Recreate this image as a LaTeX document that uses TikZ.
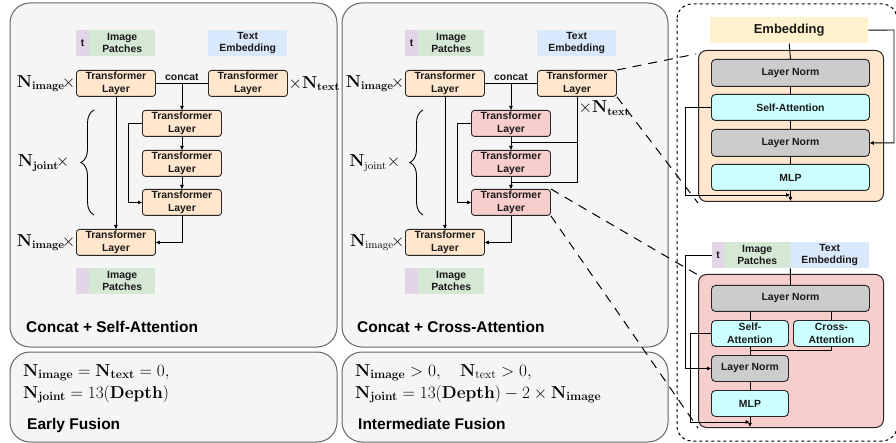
\documentclass[tikz,border=0pt]{standalone}
\usepackage[no-math]{fontspec}
\setmainfont{Liberation Sans}
\usetikzlibrary{arrows.meta,decorations.pathreplacing}
\definecolor{panelfill}{HTML}{F5F5F5}
\definecolor{paneldraw}{HTML}{666666}
\definecolor{tlc}{HTML}{FFE6CC}
\definecolor{pinkc}{HTML}{F8CECC}
\definecolor{purplec}{HTML}{E1D5E7}
\definecolor{greenc}{HTML}{D5E8D4}
\definecolor{bluec}{HTML}{DAE8FC}
\definecolor{embc}{HTML}{FFF2CC}
\definecolor{grayc}{HTML}{CCCCCC}
\definecolor{cyanc}{HTML}{CCFFFF}
\begin{document}
\begin{tikzpicture}[x=1pt,y=-1pt,
  panel/.style={draw=paneldraw,fill=panelfill,line width=1pt,rounded corners=20pt},
  tx/.style={font=\bfseries\fontsize{10.4}{12.5}\selectfont,align=center,inner sep=0pt,text=black!90},
  bx/.style={tx,anchor=north west,minimum height=26pt},
  tl/.style={bx,draw=black!85,fill=tlc,rounded corners=3pt,line width=0.9pt,minimum width=79pt},
  tlp/.style={tl,fill=pinkc},
  tag/.style={bx,minimum width=79pt},
  inner/.style={bx,draw=black!85,rounded corners=4pt,line width=0.9pt},
  ttl/.style={font=\bfseries\fontsize{15.5}{18}\selectfont,inner sep=0pt,anchor=base west},
  mlbl/.style={font=\fontsize{16}{18}\selectfont,inner sep=0.5pt},
  mtxt/.style={font=\fontsize{16.5}{18}\selectfont,inner sep=0pt,anchor=base west},
  ln/.style={line width=0.9pt,black},
  arr/.style={ln,-{Triangle[length=4pt,width=3.5pt]}},
  dsh/.style={line width=1pt,black,dash pattern=on 9pt off 7pt},
  brc/.style={decorate,decoration={brace,amplitude=13pt,aspect=0.5},line width=0.9pt}
]
\useasboundingbox (0,0) rectangle (896,443);

% ---------------- panels ----------------
\draw[panel] (10,3) rectangle (337,347);
\draw[panel] (342,3) rectangle (668,347);
\draw[panel] (10,352) rectangle (337,442);
\draw[panel] (342,352) rectangle (668,442);
\draw[line width=1pt,dashed,rounded corners=15pt] (677,4) rectangle (897,441);

% ---------------- panel 1: early fusion ----------------
\node[bx,fill=purplec,minimum width=13pt] (t1) at (76,30) {t};
\node[bx,fill=greenc,minimum width=66pt] (ip1) at (89,30) {Image\\Patches};
\node[tag,fill=bluec] (te1) at (208,30) {Text\\Embedding};
\node[tl] (a1) at (76,70) {Transformer\\Layer};
\node[tl] (b1) at (208,70) {Transformer\\Layer};
\node[tl] (j1a) at (142,110) {Transformer\\Layer};
\node[tl] (j1b) at (142,150) {Transformer\\Layer};
\node[tl] (j1c) at (142,189) {Transformer\\Layer};
\node[tl] (c1) at (76,229) {Transformer\\Layer};
\node[bx,fill=purplec,minimum width=13pt] (t1b) at (76,268) {};
\node[bx,fill=greenc,minimum width=66pt] (ip1b) at (89,268) {Image\\Patches};
\node[ttl] (title1) at (26,332) {Concat + Self-Attention};

\node[mlbl,anchor=east] (l1a) at (a1.west) {$\mathbf{N}_{\mathbf{image}}\!\times$};
\node[mlbl,anchor=west] (l1b) at (b1.east) {$\times\mathbf{N}_{\mathbf{text}}$};
\node[mlbl,anchor=east] (l1j) at (70,163) {$\mathbf{N}_{\mathbf{joint}}\!\times$};
\node[mlbl,anchor=east] (l1c) at (c1.west) {$\mathbf{N}_{\mathbf{image}}\!\times$};
\draw[brc] (94,215) -- (94,110);

\draw[ln] (a1.east) -- (b1.west) node[tx,midway,above=2.5pt] (cc1) {concat};
\draw[arr] (a1.east -| j1a.north) -- (j1a.north);
\draw[arr] (j1a.south) -- (j1b.north);
\draw[arr] (j1b.south) -- (j1c.north);
\draw[arr] (a1.south) -- (c1.north);
\draw[arr] (j1a.west) -- ++(-14,0) |- (j1c.west);
\draw[arr] (j1c.south) |- (c1.east);

% ---------------- panel 2: intermediate fusion ----------------
\node[bx,fill=purplec,minimum width=13pt] (t2) at (405,30) {t};
\node[bx,fill=greenc,minimum width=66pt] (ip2) at (418,30) {Image\\Patches};
\node[tag,fill=bluec] (te2) at (537,30) {Text\\Embedding};
\node[tl] (a2) at (405,70) {Transformer\\Layer};
\node[tl] (b2) at (537,70) {Transformer\\Layer};
\node[tlp] (j2a) at (471,110) {Transformer\\Layer};
\node[tlp] (j2b) at (471,150) {Transformer\\Layer};
\node[tlp] (j2c) at (471,189) {Transformer\\Layer};
\node[tl] (c2) at (405,229) {Transformer\\Layer};
\node[bx,fill=purplec,minimum width=13pt] (t2b) at (405,268) {};
\node[bx,fill=greenc,minimum width=66pt] (ip2b) at (418,268) {Image\\Patches};
\node[ttl] (title2) at (357,332) {Concat + Cross-Attention};

\node[mlbl,anchor=east] (l2a) at (a2.west) {$\mathbf{N}_{\mathbf{image}}\!\times$};
\node[mlbl,anchor=west] (l2b) at (578,108) {$\times\mathbf{N}_{\mathbf{text}}$};
\node[mlbl,anchor=east] (l2j) at (401,163) {$\mathbf{N}_{\mathrm{joint}}\times$};
\node[mlbl,anchor=east] (l2c) at (c2.west) {$\mathbf{N}_{\mathrm{image}}\!\times$};
\draw[brc] (423,215) -- (423,110);

\draw[ln] (a2.east) -- (b2.west) node[tx,midway,above=2.5pt] (cc2) {concat};
\draw[arr] (a2.east -| j2a.north) -- (j2a.north);
\draw[arr] (j2a.south) -- (j2b.north);
\draw[arr] (j2b.south) -- (j2c.north);
\draw[arr] (a2.south) -- (c2.north);
\draw[arr] (j2a.west) -- ++(-14,0) |- (j2c.west);
\draw[arr] (j2c.south) |- (c2.east);
\coordinate (k1) at (577,142);
\coordinate (k2) at (577,182);
\draw[ln] (b2.south -| k1) -- (k2) -- (k2 -| j2c.north);
\draw[ln] (k1) -- (k1 -| j2b.north);

% ---------------- bottom texts ----------------
\node[mtxt] (e1) at (23,376) {$\mathbf{N}_{\mathbf{image}}=\mathbf{N}_{\mathbf{text}}=0,$};
\node[mtxt] (e2) at (23,398) {$\mathbf{N}_{\mathbf{joint}}=13(\mathbf{Depth})$};
\node[ttl] (ef) at (27,429) {Early Fusion};
\node[mtxt] (i1) at (355,376) {$\mathbf{N}_{\mathbf{image}}>0,\quad \mathbf{N}_{\mathrm{text}}>0,$};
\node[mtxt] (i2) at (355,398) {$\mathbf{N}_{\mathbf{joint}}=13(\mathbf{Depth})-2\times\mathbf{N}_{\mathbf{image}}$};
\node[ttl] (imf) at (358,429) {Intermediate Fusion};

% ---------------- detail: self-attention block ----------------
\node[bx,fill=embc,minimum width=158pt,font=\bfseries\fontsize{13}{15}\selectfont] (emb) at (710,17) {Embedding};
\node[bx,draw=black!85,fill=tlc,rounded corners=8pt,line width=1pt,minimum width=185pt,minimum height=151pt] (ob) at (698,50) {};
\node[inner,fill=grayc,minimum width=158pt,minimum height=27pt] (ln1) at (711,59) {Layer Norm};
\node[inner,fill=cyanc,minimum width=158pt] (sa1) at (711,94) {Self-Attention};
\node[inner,fill=grayc,minimum width=158pt,minimum height=27pt] (ln2) at (711,129) {Layer Norm};
\node[inner,fill=cyanc,minimum width=158pt] (mlp1) at (711,164) {MLP};
\draw[ln] (emb.south) -- (ln1.north);
\draw[ln] (ln1.south) -- (sa1.north);
\draw[ln] (sa1.south) -- (ln2.north);
\draw[ln] (ln2.south) -- (mlp1.north);
\draw[arr] (mlp1.south) -- ++(0,10);
\coordinate (o1) at (790,195);
\draw[arr] (sa1.west) -- ++(-26,0) |- (o1);
\coordinate (o2) at (894,30);
\draw[arr] (emb.east) -- (o2) |- (ln2.east);

% ---------------- detail: cross-attention block ----------------
\node[bx,fill=purplec,minimum width=12pt] (t3) at (712,242) {t};
\node[bx,fill=greenc,minimum width=66pt] (ip3) at (724,242) {Image\\Patches};
\node[tag,fill=bluec] (te3) at (790,242) {Text\\Embedding};
\node[bx,draw=black!85,fill=pinkc,rounded corners=8pt,line width=1pt,minimum width=185pt,minimum height=153pt] (pb) at (698,274) {};
\node[inner,fill=grayc,minimum width=158pt] (ln3) at (711,285) {Layer Norm};
\node[inner,fill=cyanc,minimum width=77pt] (sa2) at (711,320) {Self-\\Attention};
\node[inner,fill=cyanc,minimum width=76pt] (ca2) at (793,320) {Cross-\\Attention};
\node[inner,fill=grayc,minimum width=77pt] (ln4) at (711,355) {Layer Norm};
\node[inner,fill=cyanc,minimum width=77pt] (mlp2) at (711,390) {MLP};
\draw[ln] (ip3.south east) -- (ln3.north);
\draw[ln] (sa2.north |- ln3.south) -- (sa2.north);
\draw[ln] (ca2.north |- ln3.south) -- (ca2.north);
\draw[ln] (sa2.south) -- (ln4.north);
\draw[ln] (ca2.south) -- ++(0,4) -| (ln4.north);
\draw[ln] (ln4.south) -- (mlp2.north);
\draw[arr] (mlp2.south) -- ++(0,10);
\coordinate (o3) at (749.5,422);
\draw[arr] (sa2.west) -- ++(-21,0) |- (o3);
\draw[arr] (t3.west) -- ++(-27,0) |- (ln4.west);

% ---------------- zoom lines ----------------
\coordinate (z1) at (696,54);
\coordinate (z2) at (698,203);
\coordinate (z3) at (698,275);
\coordinate (z4) at (698,428);
\draw[dsh] (b2.north east) -- (z1);
\draw[dsh] (b2.south east) -- (z2);
\draw[dsh] (j2c.north east) -- (z3);
\draw[dsh] (j2c.south east) -- (z4);
\end{tikzpicture}
\end{document}
